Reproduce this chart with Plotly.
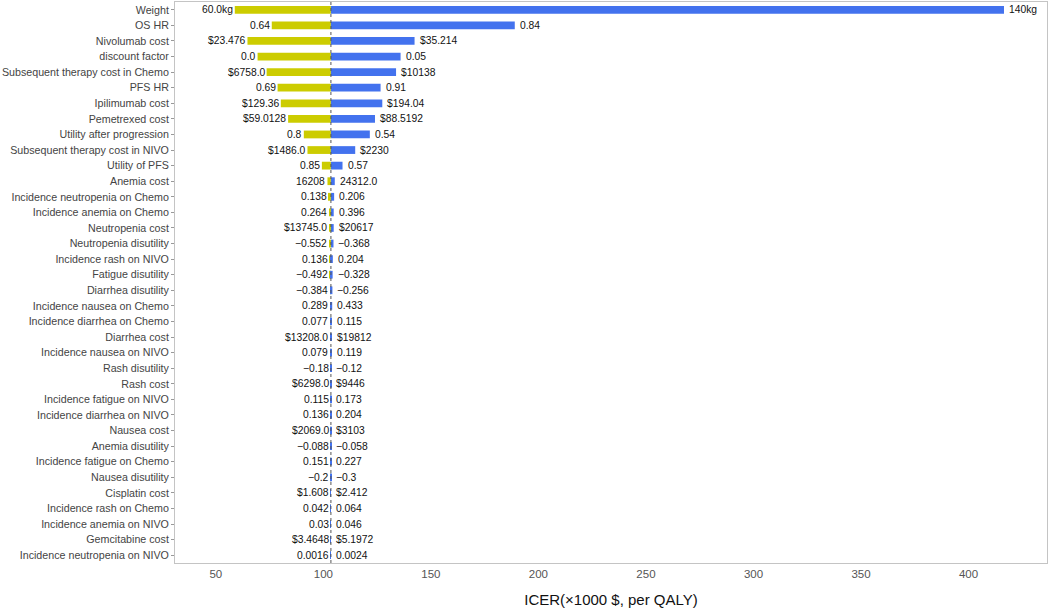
import plotly.graph_objects as go

base_icer = 103.5

params = ["Weight", "OS HR", "Nivolumab cost", "discount factor",
          "Subsequent therapy cost in Chemo", "PFS HR", "Ipilimumab cost",
          "Pemetrexed cost", "Utility after progression",
          "Subsequent therapy cost in NIVO", "Utility of PFS", "Anemia cost",
          "Incidence neutropenia on Chemo", "Incidence anemia on Chemo",
          "Neutropenia cost", "Neutropenia disutility", "Incidence rash on NIVO",
          "Fatigue disutility", "Diarrhea disutility", "Incidence nausea on Chemo",
          "Incidence diarrhea on Chemo", "Diarrhea cost", "Incidence nausea on NIVO",
          "Rash disutility", "Rash cost", "Incidence fatigue on NIVO",
          "Incidence diarrhea on NIVO", "Nausea cost", "Anemia disutility",
          "Incidence fatigue on Chemo", "Nausea disutility", "Cisplatin cost",
          "Incidence rash on Chemo", "Incidence anemia on NIVO", "Gemcitabine cost",
          "Incidence neutropenia on NIVO"]

low_icer = [58.8, 76.0, 64.7, 69.4, 73.6, 78.7, 80.2, 83.6, 90.9, 92.6, 99.3, 101.9,
            102.6, 102.7, 102.7, 102.8, 102.9, 103.0, 103.1, 103.15, 103.2, 103.3,
            103.3, 103.35, 103.35, 103.38, 103.4, 103.4, 103.42, 103.44, 103.45,
            103.46, 103.47, 103.48, 103.49, 103.495]

high_icer = [416.5, 189.0, 142.4, 135.9, 133.8, 126.6, 127.4, 124.0, 121.6, 114.8,
             108.9, 105.3, 105.0, 104.8, 104.8, 104.7, 104.4, 104.3, 104.2, 104.1,
             104.0, 103.9, 103.8, 103.75, 103.7, 103.62, 103.6, 103.6, 103.58,
             103.56, 103.55, 103.54, 103.53, 103.52, 103.51, 103.505]

low_labels = ["60.0kg", "0.64", "$23.476", "0.0", "$6758.0", "0.69", "$129.36",
              "$59.0128", "0.8", "$1486.0", "0.85", "16208", "0.138", "0.264",
              "$13745.0", "\u22120.552", "0.136", "\u22120.492", "\u22120.384", "0.289",
              "0.077", "$13208.0", "0.079", "\u22120.18", "$6298.0", "0.115", "0.136",
              "$2069.0", "\u22120.088", "0.151", "\u22120.2", "$1.608", "0.042", "0.03",
              "$3.4648", "0.0016"]

high_labels = ["140kg", "0.84", "$35.214", "0.05", "$10138", "0.91", "$194.04",
               "$88.5192", "0.54", "$2230", "0.57", "24312.0", "0.206", "0.396",
               "$20617", "\u22120.368", "0.204", "\u22120.328", "\u22120.256", "0.433",
               "0.115", "$19812", "0.119", "\u22120.12", "$9446", "0.173", "0.204",
               "$3103", "\u22120.058", "0.227", "\u22120.3", "$2.412", "0.064", "0.046",
               "$5.1972", "0.0024"]

x_ticks = [50, 100, 150, 200, 250, 300, 350, 400]

YELLOW = "#CCCC00"
BLUE = "#4372EE"
FONT = "Liberation Sans, Arial, sans-serif"

fig = go.Figure()
fig.add_trace(go.Bar(
    y=params, x=[base_icer - v for v in low_icer], base=low_icer,
    orientation="h", marker=dict(color=YELLOW, line=dict(width=0)),
    width=0.5, showlegend=False, hoverinfo="skip"))
fig.add_trace(go.Bar(
    y=params, x=[v - base_icer for v in high_icer], base=[base_icer] * len(params),
    orientation="h", marker=dict(color=BLUE, line=dict(width=0)),
    width=0.5, showlegend=False, hoverinfo="skip"))

for p, lo, hi, lt, ht in zip(params, low_icer, high_icer, low_labels, high_labels):
    fig.add_annotation(x=lo, y=p, xref="x", yref="y", text=lt, showarrow=False,
                       xanchor="right", yanchor="middle", xshift=0,
                       font=dict(family=FONT, size=10.3, color="#111111"))
    fig.add_annotation(x=hi, y=p, xref="x", yref="y", text=ht, showarrow=False,
                       xanchor="left", yanchor="middle", xshift=3,
                       font=dict(family=FONT, size=10.3, color="#111111"))

fig.add_shape(type="line", x0=base_icer, x1=base_icer, y0=0, y1=1,
              xref="x", yref="paper",
              line=dict(color="#555555", width=1, dash="dot"))

fig.update_layout(
    width=1052, height=609,
    margin=dict(l=175, r=5, t=2, b=46),
    paper_bgcolor="white", plot_bgcolor="white",
    barmode="overlay",
    font=dict(family=FONT),
    xaxis=dict(
        range=[31, 436.5], tickvals=x_ticks, ticks="", showgrid=False,
        zeroline=False, showline=True, linecolor="#c4c4c4", linewidth=1,
        mirror=True,
        tickfont=dict(family=FONT, size=11.5, color="#555555"),
        title=dict(text="ICER(\u00d71000 $, per QALY)",
                   font=dict(family=FONT, size=15, color="#111111"), standoff=15),
    ),
    yaxis=dict(
        autorange=False, range=[35.5, -0.5], type="category",
        tickmode="array", tickvals=params, ticktext=params,
        showgrid=False, zeroline=False, showline=True, linecolor="#c4c4c4",
        linewidth=1, mirror=True, ticks="outside", ticklen=3, tickcolor="#999999",
        tickfont=dict(family=FONT, size=10.7, color="#444444"), automargin=False,
    ),
)

fig.write_html("out.html", config={"displayModeBar": False},
               post_script="document.body.style.margin='0';")
